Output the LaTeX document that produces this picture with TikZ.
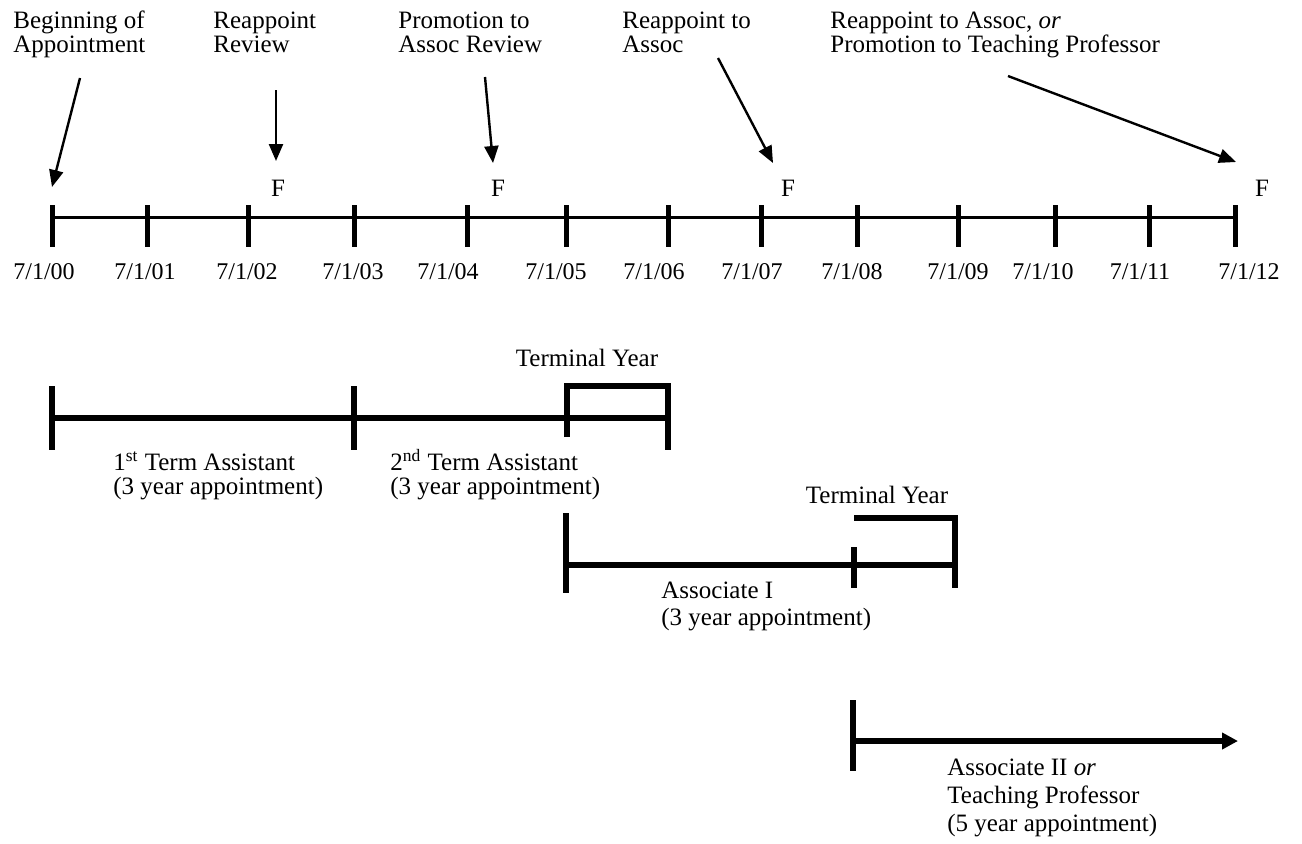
\documentclass[tikz,border=0pt]{standalone}
\usepackage{fontspec}
\setmainfont{Liberation Serif}
\usetikzlibrary{arrows.meta}
\begin{document}
\begin{tikzpicture}[x=0.5pt,y=-0.5pt,
  lbl/.style={font=\fontsize{12.5}{12}\selectfont, inner sep=0pt, align=left, anchor=north west},
  toplbl/.style={font=\fontsize{12.5}{12}\selectfont, inner sep=0pt, align=left, anchor=base west},
  datelbl/.style={font=\fontsize{12}{12}\selectfont, inner sep=0pt},
  flbl/.style={font=\fontsize{12.5}{12}\selectfont, inner sep=0pt},
  axisline/.style={line width=1.5pt},
  tickmark/.style={line width=2.5pt},
  barline/.style={line width=2.6pt},
  pointer/.style={line width=1.2pt, -{Triangle[length=8.5pt,width=7pt]}},
  longarrow/.style={line width=2.6pt, -{Triangle[length=8pt,width=8pt]}},
]
\useasboundingbox (0,0) rectangle (1302,843);

% ---- top labels (base anchor = baseline of the last line)
\node[toplbl] (lab1) at (13,52) {Beginning of\\Appointment};
\node[toplbl] (lab2) at (213,52) {Reappoint\\Review};
\node[toplbl] (lab3) at (398,52) {Promotion to\\Assoc Review};
\node[toplbl] (lab4) at (622,52) {Reappoint to\\Assoc};
\node[toplbl] (lab5) at (830,52) {Reappoint to Assoc, \emph{or}\\Promotion to Teaching Professor};

% ---- main timeline
\foreach \i/\x in {0/52,1/147,2/248,3/354,4/467,5/566,6/668,7/761,8/857,9/958,10/1055,11/1149,12/1235}{
  \coordinate (t\i) at (\x,217);
  \draw[tickmark] (\x,205) -- (\x,247);
}
\draw[axisline] (t0) -- (t12);

% ---- dates
\foreach \i/\x/\d in {0/44/00,1/145/01,2/247/02,3/353/03,4/448/04,5/556/05,6/654/06,7/752/07,8/852/08,9/958/09,10/1043/10,11/1140/11,12/1249/12}{
  \node[datelbl] (d\i) at (\x,272) {7/1/\d};
}

% ---- F marks
\node[flbl] (f1) at (278,188) {F};
\node[flbl] (f2) at (498,188) {F};
\node[flbl] (f3) at (788,188) {F};
\node[flbl] (f4) at (1262,188) {F};

% ---- pointers
\coordinate (p1s) at (80,78);   \coordinate (p1e) at (52,187);
\coordinate (p2s) at (276,90);  \coordinate (p2e) at (276,161);
\coordinate (p3s) at (485,77);  \coordinate (p3e) at (493,163);
\coordinate (p4s) at (718,58);  \coordinate (p4e) at (773,163);
\coordinate (p5s) at (1008,76); \coordinate (p5e) at (1236,162);
\draw[pointer] (p1s) -- (p1e);
\draw[pointer] (p2s) -- (p2e);
\draw[pointer] (p3s) -- (p3e);
\draw[pointer] (p4s) -- (p4e);
\draw[pointer] (p5s) -- (p5e);

% ---- row 1: assistant terms
\coordinate (r1a) at (52,418);
\coordinate (r1b) at (668,418);
\draw[barline] (r1a) -- (r1b);
\draw[tickmark,line width=2.6pt] (52,386) -- (52,450);
\draw[tickmark,line width=2.6pt] (354,386) -- (354,450);
\draw[barline] (567,437) -- (567,386) -- (668,386) -- (668,450);
\node[flbl] (ty1) at (587,358) {Terminal Year};
\node[lbl] (as1) at (113,449) {\vphantom{2\textsuperscript{nd}}1\textsuperscript{st} Term Assistant\\(3 year appointment)};
\node[lbl] (as2) at (390,449) {2\textsuperscript{nd} Term Assistant\\(3 year appointment)};

% ---- row 2: associate I
\coordinate (r2a) at (566,565);
\coordinate (r2b) at (955,565);
\draw[barline] (r2a) -- (r2b);
\draw[barline] (566,513) -- (566,593);
\draw[barline] (854,547) -- (854,588);
\draw[barline] (854,518) -- (955,518) -- (955,588);
\node[flbl] (ty2) at (877,495) {Terminal Year};
\node[lbl,font=\fontsize{12.5}{13.5}\selectfont] (ass1) at (661,582) {Associate I\\(3 year appointment)};

% ---- row 3: associate II
\coordinate (r3a) at (853,741);
\coordinate (r3b) at (1238,741);
\draw[barline] (853,700) -- (853,771);
\draw[longarrow] (r3a) -- (r3b);
\node[lbl,font=\fontsize{12.5}{14}\selectfont] (ass2) at (947,759) {Associate II \emph{or}\\Teaching Professor\\(5 year appointment)};
\end{tikzpicture}
\end{document}
